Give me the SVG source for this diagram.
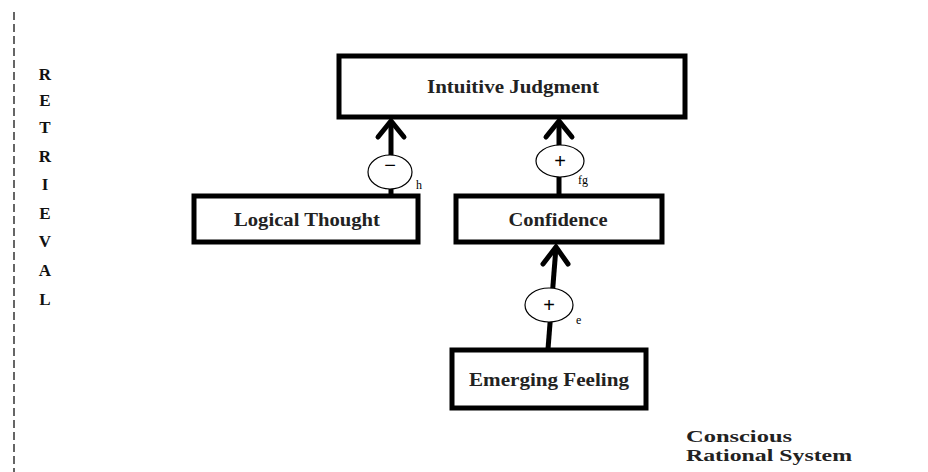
<svg xmlns="http://www.w3.org/2000/svg" width="928" height="472" viewBox="0 0 928 472">
<defs>
<style>
.box{fill:#fff;stroke:#000;stroke-width:5}
.t{font-family:"Liberation Serif","DejaVu Serif",serif;font-weight:bold;font-size:18px;fill:#222;text-anchor:middle}
.lt{font-family:"Liberation Serif","DejaVu Serif",serif;font-weight:bold;font-size:17px;fill:#111;text-anchor:middle}
.lab{font-family:"Liberation Serif","DejaVu Serif",serif;font-weight:bold;font-size:17px;fill:#222}
.ln{stroke:#000;stroke-width:5;fill:none}
.hd{stroke:#000;stroke-width:5;fill:none;stroke-linecap:round;stroke-linejoin:miter}
.el{fill:#fff;stroke:#000;stroke-width:1.2}
.sg{font-family:"Liberation Sans","DejaVu Sans",sans-serif;font-size:20px;fill:#000;text-anchor:middle}
.sm{font-family:"Liberation Serif","DejaVu Serif",serif;font-size:12px;fill:#000}
</style>
</defs>
<rect width="928" height="472" fill="#fff"/>
<line x1="14" y1="12" x2="14" y2="472" stroke="#333" stroke-width="1.5" stroke-dasharray="8,4"/>
<g id="retrieval">
<text class="lt" x="45" y="80">R</text>
<text class="lt" x="45" y="106">E</text>
<text class="lt" x="45" y="133">T</text>
<text class="lt" x="45" y="162">R</text>
<text class="lt" x="45" y="190">I</text>
<text class="lt" x="45" y="219">E</text>
<text class="lt" x="45" y="247">V</text>
<text class="lt" x="45" y="276">A</text>
<text class="lt" x="45" y="305">L</text>
</g>
<g id="connectors">
<line class="ln" x1="391" y1="195" x2="391" y2="121"/>
<polyline class="hd" points="378,137 391,121 404,137"/>
<line class="ln" x1="559" y1="195" x2="559" y2="121"/>
<polyline class="hd" points="546,137 559,121 572,137"/>
<line class="ln" x1="548" y1="349" x2="556" y2="247"/>
<polyline class="hd" points="543,264 556,247 568,264"/>
</g>
<g id="sign-h">
<ellipse class="el" cx="390" cy="172" rx="22" ry="17"/>
<text class="sg" x="390" y="172">−</text>
<text class="sm" x="416" y="189">h</text>
</g>
<g id="sign-fg">
<ellipse class="el" cx="560" cy="161" rx="24" ry="16"/>
<text class="sg" x="560" y="168">+</text>
<text class="sm" x="578" y="184">fg</text>
</g>
<g id="sign-e">
<ellipse class="el" cx="549" cy="305" rx="24" ry="17"/>
<text class="sg" x="549" y="312">+</text>
<text class="sm" x="576" y="324">e</text>
</g>
<g id="intuitive-judgment">
<rect class="box" x="339" y="56" width="346" height="61"/>
<text class="t" x="513" y="93" textLength="172" lengthAdjust="spacingAndGlyphs">Intuitive Judgment</text>
</g>
<g id="logical-thought">
<rect class="box" x="194" y="196" width="224" height="46"/>
<text class="t" x="307" y="226" textLength="146" lengthAdjust="spacingAndGlyphs">Logical Thought</text>
</g>
<g id="confidence">
<rect class="box" x="456" y="196" width="206" height="46"/>
<text class="t" x="558" y="226" textLength="99" lengthAdjust="spacingAndGlyphs">Confidence</text>
</g>
<g id="emerging-feeling">
<rect class="box" x="452" y="350" width="194" height="58"/>
<text class="t" x="549" y="386" textLength="160" lengthAdjust="spacingAndGlyphs">Emerging Feeling</text>
</g>
<g id="system-label">
<text class="lab" x="686" y="442" textLength="106" lengthAdjust="spacingAndGlyphs">Conscious</text>
<text class="lab" x="686" y="461" textLength="166" lengthAdjust="spacingAndGlyphs">Rational System</text>
</g>
</svg>
